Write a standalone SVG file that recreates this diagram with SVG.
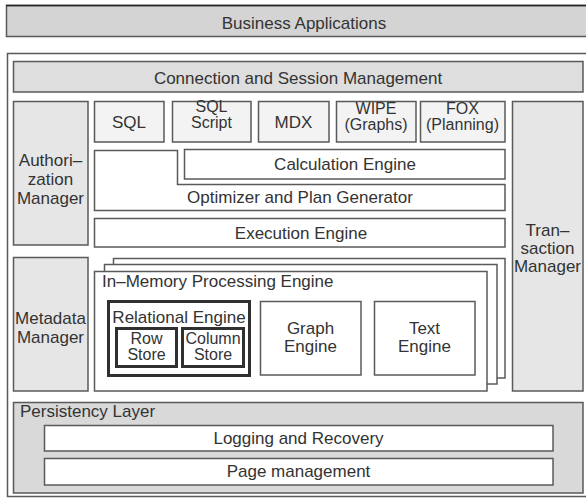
<svg xmlns="http://www.w3.org/2000/svg" width="586" height="498" viewBox="0 0 586 498">
<style>
  text { font-family: "Liberation Sans", Arial, sans-serif; font-size: 17px; fill: #333; }
  .c { text-anchor: middle; }
  .s { font-size: 16px; }
  .b { stroke: #5a5a5a; stroke-width: 1.5; }
  .thick { stroke: #303030; stroke-width: 3; fill: #fff; }
  .w { fill: #fff; }
  .g1 { fill: #d4d4d4; }
  .g2 { fill: #dedede; }
  .g3 { fill: #e6e6e6; }
  .g4 { fill: #f3f3f3; }
  .g5 { fill: #d9d9d9; }
</style>
<rect width="586" height="498" fill="#fff"/>

<g id="business-applications">
  <rect class="b g1" x="6.5" y="5.5" width="600" height="31"/>
  <line x1="6" y1="5.5" x2="586" y2="5.5" stroke="#222" stroke-width="1.5"/>
  <text class="c" x="304" y="29">Business Applications</text>
</g>

<g id="database-container">
  <rect class="b w" x="7.5" y="53.5" width="600" height="443"/>
</g>

<g id="connection-session">
  <rect class="b g2" x="13.5" y="61.5" width="569.5" height="30.5"/>
  <text class="c" x="298" y="84">Connection and Session Management</text>
</g>

<g id="authorization-manager">
  <rect class="b g3" x="13.5" y="101.5" width="74.5" height="143.5"/>
  <text class="c" x="50.5" y="166">Authori–</text>
  <text class="c" x="50.5" y="185">zation</text>
  <text class="c" x="50.5" y="204">Manager</text>
</g>

<g id="sql">
  <rect class="b g4" x="94.5" y="101.5" width="69.5" height="40.5"/>
  <text class="c" x="129" y="128">SQL</text>
</g>
<g id="sql-script">
  <rect class="b g4" x="172.5" y="101.5" width="78.5" height="40.5"/>
  <text class="c s" x="211.5" y="112">SQL</text>
  <text class="c s" x="211.5" y="128">Script</text>
</g>
<g id="mdx">
  <rect class="b g4" x="258.5" y="101.5" width="70.5" height="40.5"/>
  <text class="c" x="293.5" y="128">MDX</text>
</g>
<g id="wipe">
  <rect class="b g4" x="336.5" y="101.5" width="79.5" height="40.5"/>
  <text class="c s" x="376" y="114">WIPE</text>
  <text class="c s" x="376" y="130">(Graphs)</text>
</g>
<g id="fox">
  <rect class="b g4" x="420.5" y="101.5" width="84.5" height="40.5"/>
  <text class="c s" x="462.5" y="114">FOX</text>
  <text class="c s" x="462.5" y="130">(Planning)</text>
</g>

<g id="transaction-manager">
  <rect class="b g3" x="512.5" y="101.5" width="70.5" height="289.5"/>
  <text class="c" x="547.5" y="236">Tran–</text>
  <text class="c" x="547.5" y="254">saction</text>
  <text class="c" x="547.5" y="272">Manager</text>
</g>

<g id="calculation-engine">
  <rect class="b w" x="184.5" y="149.5" width="320.5" height="29.5"/>
  <text class="c" x="345" y="170">Calculation Engine</text>
</g>

<g id="optimizer">
  <path class="b w" d="M94.5 150.5 H177.5 V184.5 H505 V210.5 H94.5 Z"/>
  <text class="c" x="300" y="203">Optimizer and Plan Generator</text>
</g>

<g id="execution-engine">
  <rect class="b w" x="94.5" y="218.5" width="410.5" height="28.5"/>
  <text class="c" x="301" y="239">Execution Engine</text>
</g>

<g id="metadata-manager">
  <rect class="b g3" x="13.5" y="257.5" width="74.5" height="133.5"/>
  <text class="c" x="50.5" y="324">Metadata</text>
  <text class="c" x="50.5" y="343">Manager</text>
</g>

<g id="in-memory-processing-engine">
  <rect class="b w" x="113.5" y="258.5" width="391.5" height="119.5"/>
  <rect class="b w" x="104.5" y="264.5" width="392.5" height="119.5"/>
  <rect class="b w" x="94.5" y="271.5" width="392.5" height="119.5"/>
  <text x="102" y="287">In–Memory Processing Engine</text>
</g>

<g id="relational-engine">
  <rect class="thick" x="108.5" y="301.5" width="141" height="74"/>
  <text class="c" x="179" y="323">Relational Engine</text>
</g>
<g id="row-store">
  <rect class="thick" x="116.5" y="328.5" width="60" height="38"/>
  <text class="c s" x="146.5" y="344">Row</text>
  <text class="c s" x="146.5" y="360">Store</text>
</g>
<g id="column-store">
  <rect class="thick" x="182.5" y="328.5" width="61" height="38"/>
  <text class="c s" x="213" y="344">Column</text>
  <text class="c s" x="213" y="360">Store</text>
</g>

<g id="graph-engine">
  <rect class="b w" x="260.5" y="301.5" width="100.5" height="73.5"/>
  <text class="c" x="310.5" y="334">Graph</text>
  <text class="c" x="310.5" y="352">Engine</text>
</g>
<g id="text-engine">
  <rect class="b w" x="374.5" y="301.5" width="100.5" height="73.5"/>
  <text class="c" x="424.5" y="334">Text</text>
  <text class="c" x="424.5" y="352">Engine</text>
</g>

<g id="persistency-layer">
  <rect class="b g5" x="13.5" y="402.5" width="569.5" height="90.5"/>
  <text x="20" y="417">Persistency Layer</text>
</g>
<g id="logging-recovery">
  <rect class="b w" x="44.5" y="425.5" width="508.5" height="25.5"/>
  <text class="c" x="298.5" y="444">Logging and Recovery</text>
</g>
<g id="page-management">
  <rect class="b w" x="44.5" y="458.5" width="508.5" height="26.5"/>
  <text class="c" x="298.5" y="477">Page management</text>
</g>

<g id="connectors"/>
</svg>
